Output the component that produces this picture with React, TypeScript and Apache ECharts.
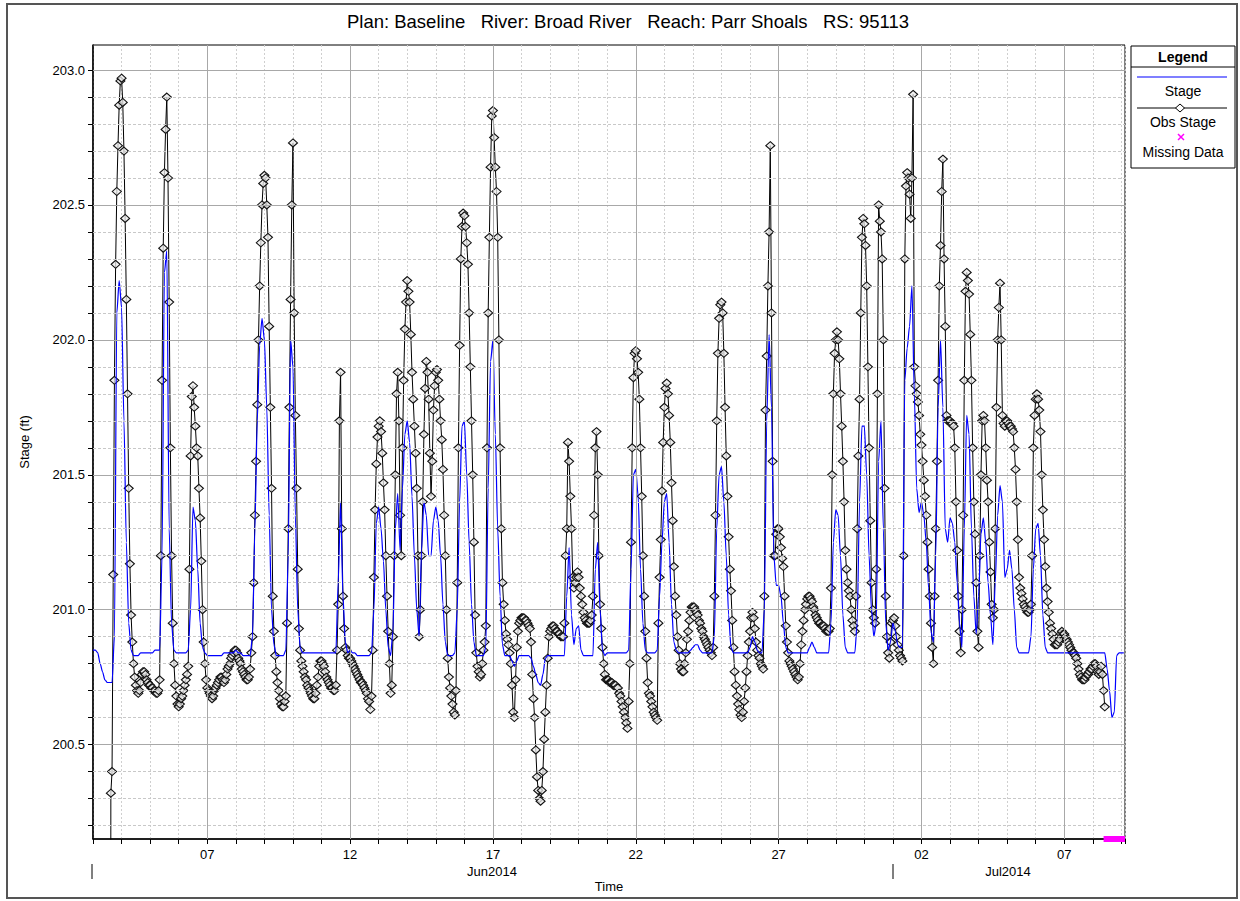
import React, { useEffect, useRef } from "react";
import * as echarts from "echarts";

// ---------- data ----------
const H = 3600000;
const DAY = 24 * H;
const obsStart = Date.UTC(2014, 5, 3, 0); // hourly observed samples from 03Jun2014 00:00
const obsStepHours = 1;
const stageStart = Date.UTC(2014, 5, 3, 0); // 2-hourly computed samples
const stageStepHours = 2;

// Observed stage, 24 hourly values per day
const obsByDay: (number | null)[][] = [
  // Jun 3
  [null, null, null, null, null, null, null, null, null, null, null, null, null, null, 195.0, 200.32, 200.4, 201.13, 201.85, 202.28, 202.55, 202.72, 202.87, 202.96],
  // Jun 4
  [202.97, 202.88, 202.7, 202.45, 202.15, 201.8, 201.45, 201.17, 200.98, 200.88, 200.8, 200.75, 200.72, 200.7, 200.69, 200.7, 200.73, 200.76, 200.77, 200.77, 200.76, 200.74, 200.73, 200.72],
  // Jun 5
  [200.72, 200.71, 200.71, 200.7, 200.7, 200.69, 200.69, 200.7, 200.74, 201.2, 201.85, 202.34, 202.62, 202.78, 202.9, 202.6, 202.14, 201.6, 201.2, 200.95, 200.8, 200.72, 200.68, 200.65],
  // Jun 6
  [200.64, 200.65, 200.67, 200.68, 200.7, 200.72, 200.74, 200.76, 200.79, 201.15, 201.57, 201.79, 201.83, 201.75, 201.68, 201.6, 201.57, 201.45, 201.34, 201.18, 201.0, 200.88, 200.8, 200.74],
  // Jun 7
  [200.71, 200.7, 200.69, 200.68, 200.67, 200.68, 200.7, 200.71, 200.72, 200.73, 200.74, 200.75, 200.75, 200.74, 200.73, 200.74, 200.76, 200.78, 200.79, 200.8, 200.82, 200.83, 200.84, 200.85],
  // Jun 8
  [200.85, 200.84, 200.82, 200.81, 200.8, 200.78, 200.77, 200.76, 200.75, 200.74, 200.74, 200.75, 200.78, 200.84, 200.9, 201.1, 201.35, 201.55, 201.76, 202.0, 202.2, 202.36, 202.5, 202.58],
  // Jun 9
  [202.61, 202.6, 202.5, 202.38, 202.05, 201.75, 201.45, 201.05, 200.92, 200.83, 200.77, 200.73, 200.7, 200.67, 200.65, 200.64, 200.64, 200.66, 200.68, 200.95, 201.3, 201.75, 202.15, 202.5],
  // Jun 10
  [202.73, 202.1, 201.72, 201.45, 201.15, 200.93, 200.85, 200.81, 200.79, 200.77, 200.75, 200.74, 200.72, 200.71, 200.7, 200.69, 200.68, 200.67, 200.67, 200.69, 200.72, 200.75, 200.79, 200.81],
  // Jun 11
  [200.81, 200.8, 200.79, 200.77, 200.75, 200.74, 200.73, 200.72, 200.71, 200.71, 200.7, 200.7, 200.72, 200.85, 201.02, 201.7, 201.88, 201.3, 201.05, 200.93, 200.86, 200.85, 200.83, 200.82],
  // Jun 12
  [200.82, 200.81, 200.8, 200.79, 200.78, 200.77, 200.76, 200.75, 200.74, 200.73, 200.73, 200.72, 200.71, 200.7, 200.69, 200.67, 200.66, 200.63, 200.68, 200.85, 201.12, 201.37, 201.54, 201.64],
  // Jun 13
  [201.68, 201.7, 201.66, 201.58, 201.47, 201.37, 201.2, 201.05, 200.92, 200.8, 200.69, 200.72, 200.9, 201.2, 201.5, 201.8, 201.88, 201.7, 201.35, 201.2, 201.6, 201.85, 202.04, 202.14],
  // Jun 14
  [202.22, 202.18, 202.14, 202.02, 201.88, 201.78, 201.68, 201.58, 201.45, 201.2, 200.9, 201.0, 201.2, 201.4, 201.65, 201.82, 201.92, 201.88, 201.78, 201.58, 201.42, 201.55, 201.74, 201.83],
  // Jun 15
  [201.88, 201.89, 201.85, 201.78, 201.7, 201.63, 201.52, 201.35, 201.2, 201.0, 200.82, 200.75, 200.71, 200.68, 200.65, 200.62, 200.61, 200.7, 201.1, 201.6, 201.98, 202.3, 202.42, 202.47],
  // Jun 16
  [202.46, 202.42, 202.36, 202.28, 202.1, 201.9, 201.7, 201.5, 201.25, 200.98, 200.84, 200.79, 200.77, 200.75, 200.76, 200.8, 200.85, 200.88, 200.94, 201.6, 202.1, 202.38, 202.64, 202.83],
  // Jun 17
  [202.85, 202.75, 202.64, 202.55, 202.38, 202.0, 201.6, 201.3, 201.1, 201.02, 200.96, 200.91, 200.89, 200.87, 200.84, 200.8, 200.72, 200.62, 200.6, 200.74, 200.86, 200.92, 200.95, 200.96],
  // Jun 18
  [200.97, 200.97, 200.97, 200.96, 200.96, 200.95, 200.94, 200.93, 200.88, 200.76, 200.67, 200.6, 200.48, 200.38, 200.33, 200.3, 200.29, 200.33, 200.4, 200.52, 200.62, 200.72, 200.82, 200.9],
  // Jun 19
  [200.92, 200.93, 200.94, 200.94, 200.93, 200.92, 200.92, 200.91, 200.91, 200.9, 200.9, 200.9, 200.95, 201.2, 201.3, 201.62, 201.55, 201.42, 201.3, 201.12, 201.08, 201.1, 201.12, 201.14],
  // Jun 20
  [201.12, 201.08, 201.05, 201.02, 200.99, 200.97, 200.96, 200.95, 200.95, 200.95, 200.96, 200.98, 201.05, 201.35, 201.6, 201.66, 201.5, 201.2, 201.02, 200.93, 200.86, 200.8, 200.76, 200.74],
  // Jun 21
  [200.74, 200.74, 200.73, 200.73, 200.73, 200.72, 200.72, 200.72, 200.71, 200.71, 200.69, 200.68, 200.66, 200.64, 200.62, 200.6, 200.58, 200.56, 200.66, 200.8, 201.25, 201.6, 201.86, 201.95],
  // Jun 22
  [201.96, 201.93, 201.88, 201.78, 201.6, 201.42, 201.2, 201.05, 200.92, 200.82, 200.73, 200.69, 200.68, 200.66, 200.64, 200.62, 200.61, 200.6, 200.59, 200.95, 201.12, 201.26, 201.44, 201.62],
  // Jun 23
  [201.75, 201.82, 201.84, 201.8, 201.72, 201.62, 201.47, 201.33, 201.16, 201.05, 200.98, 200.9, 200.85, 200.8, 200.78, 200.77, 200.77, 200.8, 200.84, 200.89, 200.92, 200.96, 200.99, 201.01],
  // Jun 24
  [201.01, 201.01, 201.0, 200.99, 200.98, 200.96, 200.95, 200.93, 200.92, 200.9, 200.89, 200.88, 200.87, 200.86, 200.85, 200.84, 200.83, 200.86, 201.05, 201.35, 201.7, 201.95, 202.08, 202.13],
  // Jun 25
  [202.14, 202.1, 201.95, 201.75, 201.57, 201.42, 201.27, 201.15, 201.07, 200.96, 200.86, 200.77, 200.72, 200.68, 200.65, 200.63, 200.61, 200.6, 200.62, 200.66, 200.71, 200.77, 200.83, 200.88],
  // Jun 26
  [200.92, 200.97, 200.99, 200.97, 200.93, 200.88, 200.85, 200.83, 200.82, 200.8, 200.79, 200.78, 201.05, 201.74, 201.94, 202.2, 202.4, 202.72, 202.1, 201.55, 201.2, 201.2, 201.28, 201.3],
  // Jun 27
  [201.3, 201.27, 201.23, 201.19, 201.16, 201.05, 200.94, 200.88, 200.84, 200.81, 200.8, 200.79, 200.78, 200.77, 200.76, 200.75, 200.74, 200.75, 200.8, 200.87, 200.92, 200.96, 201.0, 201.02],
  // Jun 28
  [201.04, 201.05, 201.05, 201.04, 201.03, 201.01, 201.0, 200.98, 200.97, 200.96, 200.95, 200.95, 200.94, 200.94, 200.94, 200.93, 200.92, 200.92, 200.92, 200.93, 201.08, 201.5, 201.8, 201.95],
  // Jun 29
  [202.0, 202.03, 202.0, 201.93, 201.8, 201.68, 201.55, 201.4, 201.22, 201.15, 201.1, 201.07, 201.05, 201.0, 200.96, 200.94, 200.92, 201.05, 201.3, 201.57, 201.78, 202.1, 202.38, 202.45],
  // Jun 30
  [202.43, 202.35, 202.2, 201.9, 201.6, 201.33, 201.1, 201.0, 200.97, 200.95, 201.15, 201.8, 202.5, 202.44, 202.4, 202.3, 202.0, 201.45, 201.05, 200.9, 200.84, 200.82, 200.88, 200.95],
  // Jul 1
  [200.96, 200.97, 200.94, 200.9, 200.87, 200.85, 200.83, 200.82, 200.81, 201.2, 202.3, 202.57, 202.62, 202.6, 202.54, 202.45, 202.6, 202.91, 201.9, 201.83, 201.8, 201.77, 201.72, 201.65],
  // Jul 2
  [201.61, 201.55, 201.48, 201.42, 201.35, 201.25, 201.15, 201.05, 200.95, 200.86, 200.8, 201.05, 201.3, 201.55, 201.85, 202.2, 202.35, 202.55, 202.67, 202.3, 202.05, 201.72, 201.7, 201.7],
  // Jul 3
  [201.7, 201.69, 201.69, 201.68, 201.6, 201.4, 201.22, 201.05, 200.92, 200.84, 201.0, 201.35, 201.85, 202.18, 202.25, 202.22, 202.17, 202.02, 201.85, 201.6, 201.4, 201.28, 201.1, 200.92],
  // Jul 4
  [200.86, 201.2, 201.5, 201.7, 201.72, 201.7, 201.6, 201.48, 201.4, 201.25, 201.14, 201.02, 200.97, 201.0, 201.3, 201.75, 202.0, 202.12, 202.21, 202.0, 201.72, 201.69, 201.68, 201.7],
  // Jul 5
  [201.7, 201.69, 201.68, 201.68, 201.67, 201.66, 201.6, 201.52, 201.4, 201.26, 201.12, 201.08, 201.06, 201.04, 201.02, 201.01, 201.0, 200.99, 200.99, 201.0, 201.02, 201.2, 201.6, 201.72],
  // Jul 6
  [201.78, 201.8, 201.78, 201.74, 201.66, 201.5, 201.37, 201.26, 201.16, 201.08, 201.03, 200.99, 200.95, 200.93, 200.91, 200.89, 200.87, 200.87, 200.87, 200.88, 200.89, 200.91, 200.92, 200.91],
  // Jul 7
  [200.91, 200.9, 200.89, 200.88, 200.87, 200.86, 200.85, 200.84, 200.84, 200.83, 200.82, 200.8, 200.78, 200.76, 200.75, 200.74, 200.74, 200.74, 200.75, 200.76, 200.76, 200.77, 200.78, 200.78],
  // Jul 8
  [200.79, 200.8, 200.8, 200.79, 200.77, 200.76, 200.77, 200.79, 200.76, 200.7, 200.64],
];

// Computed stage, 12 two-hourly values per day
const stageByDay: number[][] = [
  [200.85, 200.85, 200.84, 200.8, 200.77, 200.74, 200.73, 200.73, 200.73, 200.9, 202.1, 202.22], // Jun 3
  [202.12, 201.7, 201.25, 200.95, 200.85, 200.83, 200.83, 200.83, 200.84, 200.84, 200.84, 200.84],
  [200.84, 200.84, 200.85, 200.85, 200.85, 201.2, 202.25, 202.33, 201.3, 200.95, 200.85, 200.84],
  [200.84, 200.84, 200.84, 200.84, 200.85, 201.0, 201.38, 201.33, 201.15, 200.95, 200.86, 200.84],
  [200.83, 200.83, 200.83, 200.83, 200.83, 200.83, 200.83, 200.84, 200.84, 200.84, 200.84, 200.84], // Jun 7
  [200.85, 200.84, 200.84, 200.83, 200.83, 200.83, 200.83, 200.9, 201.3, 201.7, 201.98, 202.08],
  [202.0, 201.75, 201.35, 201.0, 200.87, 200.83, 200.83, 200.83, 200.83, 200.85, 201.2, 202.0],
  [201.9, 201.35, 201.0, 200.86, 200.84, 200.84, 200.84, 200.84, 200.84, 200.84, 200.84, 200.84],
  [200.84, 200.84, 200.84, 200.84, 200.84, 200.84, 200.84, 201.1, 201.4, 201.05, 200.88, 200.84],
  [200.85, 200.84, 200.84, 200.83, 200.83, 200.83, 200.83, 200.83, 200.83, 200.84, 201.0, 201.32], // Jun 12
  [201.38, 201.3, 201.18, 201.0, 200.86, 200.83, 200.92, 201.3, 201.43, 201.22, 201.45, 201.65],
  [201.7, 201.62, 201.42, 201.2, 201.0, 200.9, 201.22, 201.4, 201.35, 201.2, 201.2, 201.33],
  [201.38, 201.33, 201.2, 201.02, 200.88, 200.83, 200.83, 200.83, 200.84, 201.0, 201.4, 201.68],
  [201.7, 201.5, 201.25, 201.02, 200.88, 200.83, 200.83, 200.83, 200.83, 200.86, 201.45, 201.92],
  [202.0, 201.65, 201.3, 201.05, 200.87, 200.83, 200.83, 200.83, 200.81, 200.79, 200.81, 200.83], // Jun 17
  [200.83, 200.83, 200.83, 200.83, 200.82, 200.79, 200.76, 200.73, 200.72, 200.76, 200.82, 200.83],
  [200.83, 200.83, 200.83, 200.83, 200.83, 200.83, 200.83, 201.05, 201.23, 200.98, 200.87, 200.93],
  [200.94, 200.85, 200.83, 200.83, 200.83, 200.83, 200.83, 201.15, 201.25, 201.0, 200.85, 200.83],
  [200.84, 200.84, 200.84, 200.84, 200.84, 200.84, 200.84, 200.84, 200.84, 200.85, 201.15, 201.5],
  [201.52, 201.42, 201.15, 200.95, 200.85, 200.84, 200.84, 200.84, 200.84, 200.85, 201.05, 201.25], // Jun 22
  [201.4, 201.43, 201.25, 201.02, 200.88, 200.85, 200.84, 200.84, 200.84, 200.84, 200.84, 200.85],
  [200.86, 200.87, 200.87, 200.85, 200.84, 200.84, 200.84, 200.84, 200.84, 200.9, 201.3, 201.5],
  [201.53, 201.4, 201.2, 200.98, 200.86, 200.84, 200.84, 200.84, 200.84, 200.84, 200.84, 200.84],
  [200.86, 200.9, 200.88, 200.85, 200.84, 200.84, 201.0, 201.7, 202.02, 201.75, 201.2, 201.09],
  [201.09, 201.05, 200.95, 200.86, 200.84, 200.84, 200.84, 200.84, 200.84, 200.84, 200.84, 200.84], // Jun 27
  [200.84, 200.86, 200.88, 200.86, 200.84, 200.84, 200.84, 200.84, 200.84, 200.84, 200.95, 201.25],
  [201.37, 201.35, 201.2, 200.98, 200.86, 200.84, 200.84, 200.84, 200.84, 200.95, 201.4, 201.68],
  [201.68, 201.5, 201.2, 201.0, 200.9, 200.95, 201.55, 201.7, 201.3, 200.95, 200.85, 200.88],
  [200.95, 200.92, 200.87, 200.86, 200.86, 201.85, 201.97, 202.05, 202.2, 201.8, 201.45, 201.36], // Jul 1
  [201.4, 201.35, 201.25, 201.08, 200.92, 200.88, 201.2, 201.75, 202.0, 201.75, 201.3, 201.25],
  [201.34, 201.32, 201.25, 201.1, 200.95, 200.86, 201.3, 201.72, 201.65, 201.3, 201.05, 200.91],
  [201.05, 201.28, 201.34, 201.25, 201.1, 200.98, 200.87, 201.1, 201.35, 201.46, 201.4, 201.12],
  [201.15, 201.22, 201.15, 201.0, 200.86, 200.84, 200.84, 200.84, 200.84, 200.84, 200.9, 201.15],
  [201.3, 201.32, 201.2, 200.98, 200.86, 200.84, 200.84, 200.84, 200.84, 200.84, 200.84, 200.84], // Jul 6
  [200.84, 200.84, 200.84, 200.84, 200.84, 200.84, 200.84, 200.84, 200.84, 200.84, 200.84, 200.84],
  [200.84, 200.84, 200.84, 200.84, 200.84, 200.84, 200.78, 200.7, 200.6, 200.62, 200.83, 200.84],
  [200.84, 200.84], // Jul 9
];

const missingDataRange = [Date.UTC(2014, 6, 8, 9), Date.UTC(2014, 6, 9, 3)];

const yGridTicks = [
  200.2, 200.3, 200.4, 200.5, 200.6, 200.7, 200.8, 200.9, 201.0, 201.1, 201.2, 201.3, 201.4, 201.5,
  201.6, 201.7, 201.8, 201.9, 202.0, 202.1, 202.2, 202.3, 202.4, 202.5, 202.6, 202.7, 202.8, 202.9, 203.0,
];
const yLabelTicks = [200.5, 201.0, 201.5, 202.0, 202.5, 203.0];
const xMajorDays = [
  Date.UTC(2014, 5, 7), Date.UTC(2014, 5, 12), Date.UTC(2014, 5, 17), Date.UTC(2014, 5, 22),
  Date.UTC(2014, 5, 27), Date.UTC(2014, 6, 2), Date.UTC(2014, 6, 7),
];
const monthLabels = ["Jun2014", "Jul2014"];
const titleText =
  "Plan: Baseline\u00a0\u00a0\u00a0River: Broad River\u00a0\u00a0\u00a0Reach: Parr Shoals\u00a0\u00a0\u00a0RS: 95113";

const X_MIN = Date.UTC(2014, 5, 3, 0);
const X_MAX = Date.UTC(2014, 6, 9, 3);
const Y_MIN = 200.15;
const Y_MAX = 203.093;

function flatten(byDay: (number | null)[][], start: number, stepH: number) {
  const out: any[] = [];
  let i = 0;
  byDay.forEach((day) => {
    day.forEach((v) => {
      const t = start + i * stepH * H;
      out.push([t, v === null ? "-" : v]);
      i++;
    });
    // partial days keep the index aligned with the clock
    const perDay = 24 / stepH;
    i += perDay - day.length;
  });
  return out;
}

const FONT = "'Liberation Sans', Arial, sans-serif";

export default function App() {
  const ref = useRef<HTMLDivElement>(null);
  useEffect(() => {
    if (!ref.current) return;
    const chart = echarts.init(ref.current, undefined, { renderer: "svg" });
    const obsData = flatten(obsByDay, obsStart, obsStepHours);
    const stageData = flatten(stageByDay, stageStart, stageStepHours);
    const isMajor = (v: number) => yLabelTicks.some((m) => Math.abs(m - v) < 1e-6);

    const gridMarkLines: any[] = [
      ...yGridTicks.map((v) => ({
        yAxis: v,
        lineStyle: isMajor(v)
          ? { color: "#a8a8a8", type: "solid", width: 1 }
          : { color: "#c8c8c8", type: [3, 2], width: 1 },
      })),
      ...xMajorDays.map((t) => ({
        xAxis: t,
        lineStyle: { color: "#a8a8a8", type: "solid", width: 1 },
      })),
    ];

    const legendText = (y: number, text: string, bold = false) => ({
      type: "text",
      x: 1183,
      y,
      style: {
        text,
        font: `${bold ? "bold " : ""}14px ${FONT}`,
        fill: "#000",
        align: "center",
        verticalAlign: "middle",
      },
    });

    const option: any = {
      animation: false,
      backgroundColor: "#ffffff",
      textStyle: { fontFamily: FONT },
      grid: {
        left: 93,
        right: 115,
        top: 45,
        bottom: 62,
        show: true,
        borderColor: "#000",
        borderWidth: 1,
        backgroundColor: "transparent",
      },
      xAxis: {
        type: "value",
        min: X_MIN,
        max: X_MAX,
        interval: DAY,
        axisLine: { show: true, onZero: false, lineStyle: { color: "#000", width: 1.5 } },
        axisTick: { show: true, length: 5, lineStyle: { color: "#000" } },
        axisLabel: {
          color: "#000",
          fontSize: 13,
          fontFamily: FONT,
          margin: 9,
          formatter: (v: number) => {
            const days = (v - xMajorDays[0]) / DAY;
            if (Number.isInteger(days) && days % 5 === 0) {
              const d = new Date(v).getUTCDate();
              return (d < 10 ? "0" : "") + d;
            }
            return "";
          },
        },
        splitLine: { show: true, lineStyle: { color: "#cfcfcf", type: [2, 2], width: 1 } },
        name: "Time",
        nameLocation: "middle",
        nameGap: 41,
        nameTextStyle: { color: "#000", fontSize: 13, fontFamily: FONT },
      },
      yAxis: {
        type: "value",
        min: Y_MIN,
        max: Y_MAX,
        axisLine: { show: true, lineStyle: { color: "#000", width: 1.5 } },
        axisTick: { show: true, length: 5, customValues: yGridTicks, lineStyle: { color: "#000" } },
        axisLabel: {
          customValues: yLabelTicks,
          color: "#000",
          fontSize: 13,
          fontFamily: FONT,
          margin: 8,
          formatter: (v: number) => v.toFixed(1),
        },
        splitLine: { show: false },
        name: "Stage (ft)",
        nameLocation: "middle",
        nameGap: 62,
        nameRotate: 90,
        nameTextStyle: { color: "#000", fontSize: 13, fontFamily: FONT },
      },
      series: [
        {
          name: "grid",
          type: "line",
          data: [],
          z: 1,
          silent: true,
          markLine: {
            silent: true,
            symbol: ["none", "none"],
            label: { show: false },
            animation: false,
            data: gridMarkLines,
          },
        },
        {
          name: "Obs Stage",
          type: "line",
          data: obsData,
          z: 3,
          showSymbol: true,
          showAllSymbol: true,
          symbol: "diamond",
          symbolSize: [9, 8],
          lineStyle: { color: "#000", width: 1 },
          itemStyle: { color: "rgba(235,235,235,0.75)", borderColor: "#111", borderWidth: 1.1 },
          emphasis: { disabled: true },
          clip: true,
        },
        {
          name: "Stage",
          type: "line",
          data: stageData,
          z: 4,
          showSymbol: false,
          smooth: 0.25,
          smoothMonotone: "x",
          lineStyle: { color: "#0000ff", width: 1.2 },
          emphasis: { disabled: true },
          clip: true,
        },
        {
          name: "Missing Data",
          type: "line",
          data: [
            [missingDataRange[0], Y_MIN],
            [missingDataRange[1], Y_MIN],
          ],
          z: 5,
          showSymbol: false,
          clip: false,
          lineStyle: { color: "#ff00ff", width: 6 },
        },
      ],
      graphic: [
        {
          type: "rect",
          shape: { x: 7, y: 4, width: 1230, height: 894 },
          style: { fill: "none", stroke: "#555", lineWidth: 2 },
          silent: true,
        },
        {
          type: "text",
          x: 628,
          y: 21,
          style: { text: titleText, font: `18.5px ${FONT}`, fill: "#000", align: "center", verticalAlign: "middle" },
        },
        { type: "line", shape: { x1: 92, y1: 864, x2: 92, y2: 879 }, style: { stroke: "#000", lineWidth: 1 } },
        { type: "line", shape: { x1: 893, y1: 864, x2: 893, y2: 879 }, style: { stroke: "#000", lineWidth: 1 } },
        {
          type: "text",
          x: 492,
          y: 871,
          style: { text: monthLabels[0], font: `13px ${FONT}`, fill: "#000", align: "center", verticalAlign: "middle" },
        },
        {
          type: "text",
          x: 1008,
          y: 871,
          style: { text: monthLabels[1], font: `13px ${FONT}`, fill: "#000", align: "center", verticalAlign: "middle" },
        },
        // legend box
        {
          type: "rect",
          shape: { x: 1131, y: 46, width: 104, height: 122 },
          style: { fill: "#fff", stroke: "#000", lineWidth: 1 },
        },
        { type: "line", shape: { x1: 1131, y1: 67, x2: 1235, y2: 67 }, style: { stroke: "#000", lineWidth: 1 } },
        legendText(57, "Legend", true),
        { type: "line", shape: { x1: 1137, y1: 77, x2: 1227, y2: 77 }, style: { stroke: "#0000ff", lineWidth: 1.2 } },
        legendText(91, "Stage"),
        { type: "line", shape: { x1: 1137, y1: 108, x2: 1227, y2: 108 }, style: { stroke: "#000", lineWidth: 1 } },
        {
          type: "polygon",
          shape: { points: [[1175.5, 108], [1180, 104], [1184.5, 108], [1180, 112]] },
          style: { fill: "#fff", stroke: "#000", lineWidth: 1 },
        },
        legendText(122, "Obs Stage"),
        { type: "line", shape: { x1: 1178, y1: 134, x2: 1184, y2: 140 }, style: { stroke: "#ff00ff", lineWidth: 1.5 } },
        { type: "line", shape: { x1: 1178, y1: 140, x2: 1184, y2: 134 }, style: { stroke: "#ff00ff", lineWidth: 1.5 } },
        legendText(152, "Missing Data"),
      ],
    };
    chart.setOption(option);
    return () => chart.dispose();
  }, []);
  return (
    <div
      ref={ref}
      style={{ position: "absolute", left: 0, top: 0, width: 1240, height: 901, background: "#fff" }}
    />
  );
}
